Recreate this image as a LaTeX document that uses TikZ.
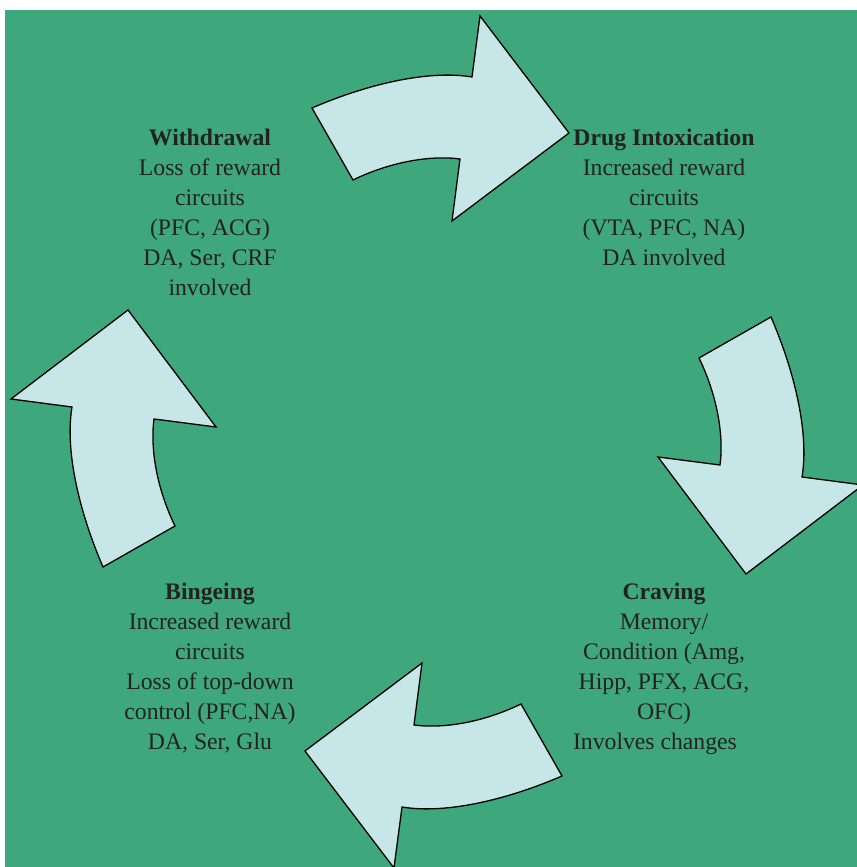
\documentclass[tikz,border=0pt]{standalone}
\usepackage{fontspec}
\setmainfont{Liberation Serif}
\definecolor{bgcol}{RGB}{62,167,123}
\definecolor{arrowcol}{RGB}{198,230,232}
\definecolor{textcol}{RGB}{34,34,34}
\tikzset{
  cyclearrow/.style={draw=black,fill=arrowcol,line width=1.3bp,line join=miter},
  stagetext/.style={inner sep=0pt,text=textcol,font=\fontsize{23.7bp}{30bp}\selectfont},
}
\begin{document}
\begin{tikzpicture}[line join=bevel,]
  \useasboundingbox (0bp,0bp) rectangle (857bp,867bp);
%%
\begin{scope}
  \fill [bgcol] (5bp,0bp) rectangle (857bp,857bp);
\end{scope}
  % Arrow: withdrawal -> intox
  \draw [cyclearrow] (312bp,759bp) .. controls (370bp,784bp) and (430bp,797bp) .. (472bp,790bp) -- (480bp,851bp) -- (569bp,734bp) -- (452bp,646bp) -- (460bp,708bp) .. controls (430bp,712bp) and (390bp,705bp) .. (353bp,687bp) -- cycle;
  % Arrow: intox -> craving
  \draw [cyclearrow] (771bp,550bp) .. controls (796bp,492bp) and (809bp,432bp) .. (802bp,390bp) -- (863bp,382bp) -- (746bp,293bp) -- (658bp,410bp) -- (720bp,402bp) .. controls (724bp,432bp) and (717bp,472bp) .. (699bp,509bp) -- cycle;
  % Arrow: craving -> binge
  \draw [cyclearrow] (562bp,91bp) .. controls (504bp,66bp) and (444bp,53bp) .. (402bp,60bp) -- (394bp,-1bp) -- (305bp,116bp) -- (422bp,204bp) -- (414bp,142bp) .. controls (444bp,138bp) and (484bp,145bp) .. (521bp,163bp) -- cycle;
  % Arrow: binge -> withdrawal
  \draw [cyclearrow] (103bp,300bp) .. controls (78bp,358bp) and (65bp,418bp) .. (72bp,460bp) -- (11bp,468bp) -- (128bp,557bp) -- (216bp,440bp) -- (154bp,448bp) .. controls (150bp,418bp) and (157bp,378bp) .. (175bp,341bp) -- cycle;
  % Node: withdrawal
  \node [stagetext] (withdrawal) at (210bp,652bp) {\begin{tabular}{c}
						\textbf{Withdrawal} \\						Loss of reward \\						circuits \\						(PFC, ACG) \\						DA, Ser, CRF \\						involved
						\end{tabular}};
  % Node: intox
  \node [stagetext] (intox) at (664bp,667bp) {\begin{tabular}{c}
						\textbf{Drug Intoxication} \\						Increased reward \\						circuits \\						(VTA, PFC, NA) \\						DA involved
						\end{tabular}};
  % Node: craving
  \node [stagetext] (craving) at (664bp,198bp) {\begin{tabular}{c}
						\textbf{Craving} \\						Memory/ \\						Condition (Amg, \\						Hipp, PFX, ACG, \\						OFC) \\						Involves changes\hspace*{18bp}
						\end{tabular}};
  % Node: binge
  \node [stagetext] (binge) at (210bp,198bp) {\begin{tabular}{c}
						\textbf{Bingeing} \\						Increased reward \\						circuits \\						Loss of top-down \\						control (PFC,NA) \\						DA, Ser, Glu
						\end{tabular}};
%
\end{tikzpicture}
\end{document}
